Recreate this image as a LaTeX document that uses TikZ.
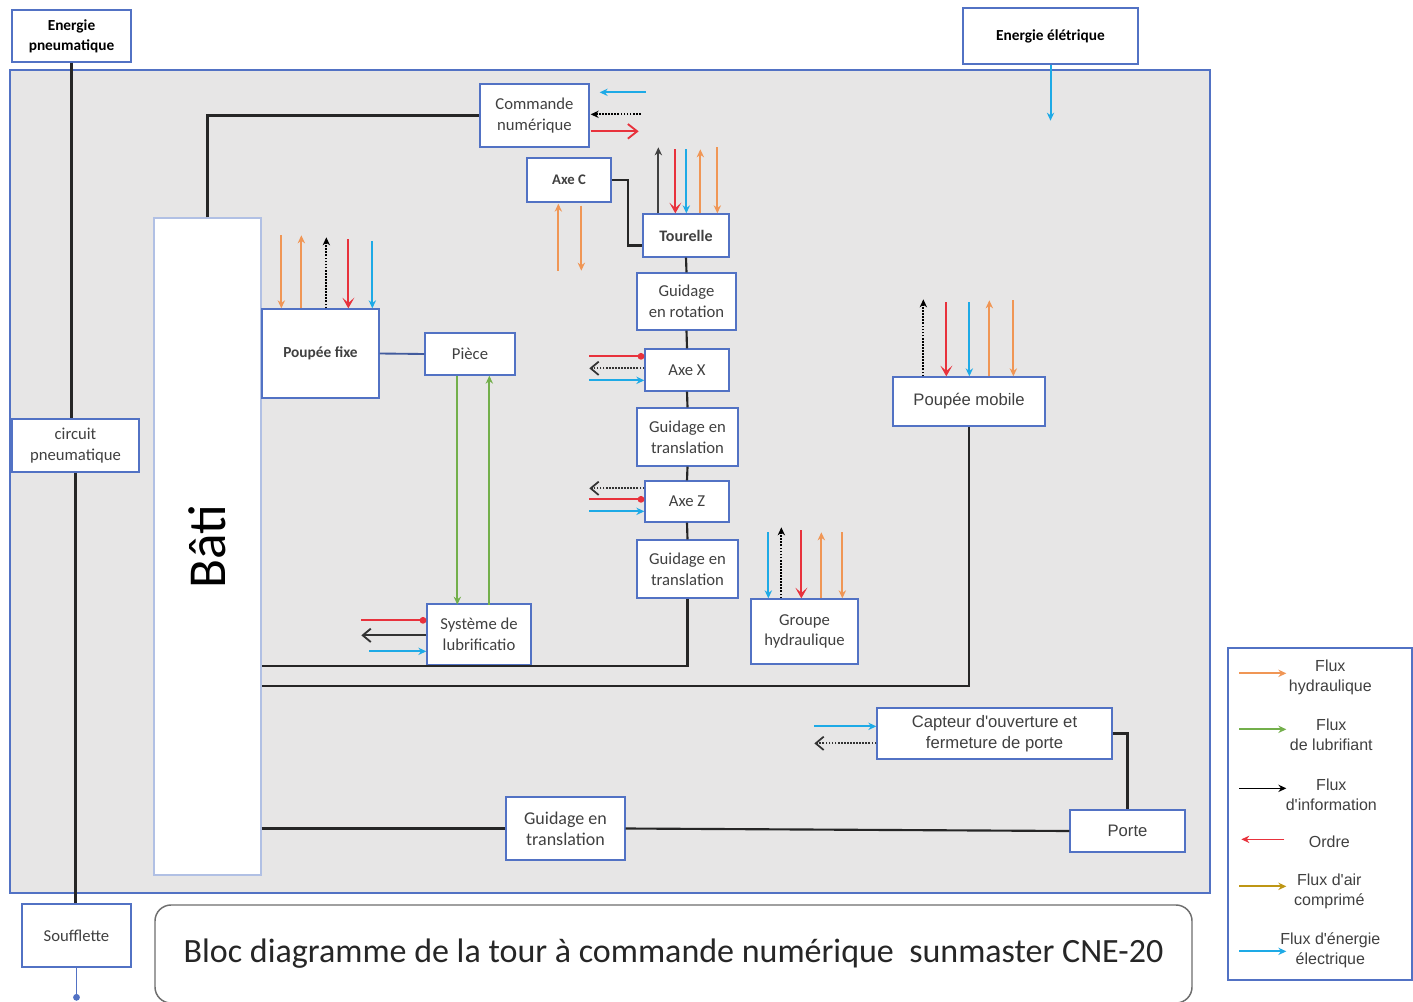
\documentclass[tikz,border=0pt]{standalone}
\usepackage{fontspec}
\setmainfont{Carlito}
\newfontfamily\arialf{Liberation Sans}
\usetikzlibrary{arrows.meta,calc}
\definecolor{bgc}{RGB}{231,230,230}
\definecolor{boxc}{RGB}{82,114,196}
\definecolor{orng}{RGB}{240,150,85}
\definecolor{redc}{RGB}{232,50,60}
\definecolor{cyanc}{RGB}{30,170,230}
\definecolor{grn}{RGB}{115,175,75}
\definecolor{goldc}{RGB}{190,150,20}
\definecolor{txt}{RGB}{64,64,64}
\definecolor{tbord}{RGB}{110,110,110}
\tikzset{
 box/.style={draw=boxc, fill=white, line width=1pt, align=center, inner sep=0pt, text=txt,
   font=\fontsize{12.5}{15.5}\selectfont},
 abox/.style={box, font=\arialf\fontsize{12.5}{15.5}\selectfont},
 bbox/.style={box, text=black, font=\bfseries\fontsize{11.5}{15}\selectfont},
 sz/.style 2 args={minimum width={#1*0.75pt}, minimum height={#2*0.75pt}},
 link/.style={draw=black!85, line width=1.6pt},
 tipS/.style={-{Stealth[length=6pt,width=5.5pt]}},
 fo/.style={draw=orng, line width=1.5pt, tipS},
 fc/.style={draw=cyanc, line width=1.5pt, tipS},
 fg/.style={draw=grn, line width=1.5pt, tipS},
 fgold/.style={draw=goldc, line width=1.5pt, tipS},
 fr/.style={draw=redc, line width=1.4pt, -{Stealth[length=8pt,width=9pt,inset=4pt]}},
 frd/.style={draw=redc, line width=1.4pt, -{Circle[length=5pt]}},
 fi/.style={draw=black, line width=1.3pt, densely dotted, tipS},
 fio/.style={draw=black!80, line width=1.3pt, densely dotted, -{Straight Barb[length=6pt,width=10pt]}},
 lgt/.style={align=center, inner sep=0pt, text=txt, font=\arialf\fontsize{12}{15}\selectfont},
}
\begin{document}
\begin{tikzpicture}[x=0.75pt,y=-0.75pt]
\useasboundingbox (0,0) rectangle (1413,1002);
% background panel
\fill[white] (0,0) rectangle (1413,1002);
\draw[fill=bgc, draw=boxc, line width=1pt] (10,70) rectangle (1210,893);

% nodes
\node[bbox, sz={119}{52}] (ep) at (71.5,36) {Energie\\pneumatique};
\node[bbox, sz={175}{56}] (ee) at (1050.5,36) {Energie élétrique};
\node[box, sz={109}{63}] (cn) at (534.5,115.5) {Commande\\numérique};
\node[box, sz={84}{44}, font=\bfseries\fontsize{11}{13}\selectfont] (axec) at (569,180) {Axe C};
\node[box, sz={86}{43}, font=\bfseries\fontsize{12}{14}\selectfont] (tour) at (686,235.5) {Tourelle};
\node[box, sz={99}{57}] (gr) at (686.5,301.5) {Guidage\\en rotation};
\node[box, sz={84}{42}] (ax) at (687,370) {Axe X};
\node[box, sz={101}{58}] (gt1) at (687.5,437) {Guidage en\\translation};
\node[box, sz={84}{41}] (az) at (687,501.5) {Axe Z};
\node[box, sz={101}{58}] (gt2) at (687.5,569) {Guidage en\\translation};
\node[box, sz={107}{65}] (gh) at (804.5,631.5) {Groupe\\hydraulique};
\node[box, sz={107}{657}, draw=boxc!45, text=black, font=\fontsize{40}{40}\selectfont] (bati) at (207.5,546.5) {\rotatebox{90}{Bâti}};
\node[box, sz={117}{89}, font=\bfseries\fontsize{11.5}{14}\selectfont] (pf) at (320.5,353.5) {Poupée fixe};
\node[box, sz={90}{42}] (pc) at (470,354) {Pièce};
\node[box, sz={104}{61}] (sl) at (479,634.5) {Système de\\lubrificatio};
\node[abox, sz={152}{49}] (pm) at (969,401.5) {Poupée mobile};
\node[box, sz={127}{53}] (cp) at (75.5,445.5) {circuit\\pneumatique};
\node[abox, sz={235}{51}] (cap) at (994.5,733.5) {Capteur d'ouverture et\\fermeture de porte};
\node[abox, sz={115}{42}] (porte) at (1127.5,831) {Porte};
\node[box, sz={119}{63}, font=\fontsize{13.5}{16}\selectfont] (gt3) at (565.5,828.5) {Guidage en\\translation};
\node[box, sz={109}{63}] (sf) at (76.5,935.5) {Soufflette};
\node[draw=tbord, fill=white, line width=1.1pt, rounded corners=12pt, sz={1037}{98}, inner sep=0pt,
      text=black!85, font=\fontsize{25.5}{28}\selectfont] (title) at (673.5,954) {Bloc diagramme de la tour à commande numérique\ \ sunmaster CNE-20};
\node[draw=boxc, fill=white, line width=1pt, sz={184}{332}, inner sep=0pt] (lg) at (1320,814) {};

% structural links
\draw[link] (ep.south) -- (ep.south |- cp.north);
\draw[link] (cp.south) -- (cp.south |- sf.north);
\draw[link] (bati.north) |- (cn.west);
\coordinate (tcin) at ($(tour.west)+(0,10)$);
\draw[link] (axec.east) -- ++(16,0) |- (tcin);
\draw[link] (tour.south) -- (gr.north);
\draw[link] (gr.south) -- (ax.north);
\draw[link] (ax.south) -- (gt1.north);
\draw[link] (gt1.south) -- (az.north);
\draw[link] (az.south) -- (gt2.north);
\draw[link] (gt2.south) |- (bati.east |- sl.south);
\coordinate (pmb) at (bati.east |- 0,686);
\draw[link] (pm.south) |- (pmb);
\draw[link] (bati.east |- gt3.west) -- (gt3.west);
\draw[link] (gt3.east) -- (porte.west);
\draw[link] (cap.east) -| (porte.north);
\draw[draw=boxc!80!black, line width=1.4pt] (pf.east) -- (pc.west);

% energy inputs
\draw[fc] (ee.south) -- ++(0,56);
\draw[draw=boxc, line width=1.4pt, -{Circle[length=5pt]}] (sf.south) -- ++(0,33);

% Commande numerique
\draw[fc] ($(cn.north east)+(56,9)$) -- ($(cn.north east)+(10,9)$);
\draw[fi] ($(cn.north east)+(51,31)$) -- ($(cn.north east)+(1,31)$);
\draw[draw=redc, line width=1.4pt, -{Straight Barb[length=7pt,width=11pt]}] ($(cn.north east)+(1,48)$) -- ($(cn.north east)+(49,48)$);

% Axe C
\draw[fo] ($(axec.south west)+(32,68)$) -- ($(axec.south west)+(32,1)$);
\draw[fo] ($(axec.south west)+(55,3)$) -- ($(axec.south west)+(55,68)$);

% Tourelle
\draw[draw=black!75, line width=1.4pt, tipS] ($(tour.north west)+(16,0)$) -- ($(tour.north west)+(16,-66)$);
\draw[fr] ($(tour.north west)+(33,-64)$) -- ($(tour.north west)+(33,0)$);
\draw[fc] ($(tour.north west)+(44,-64)$) -- ($(tour.north west)+(44,0)$);
\draw[fo] ($(tour.north west)+(58,0)$) -- ($(tour.north west)+(58,-64)$);
\draw[fo] ($(tour.north west)+(75,-66)$) -- ($(tour.north west)+(75,0)$);

% Poupee fixe
\draw[fo] ($(pf.north west)+(20,-73)$) -- ($(pf.north west)+(20,0)$);
\draw[fo] ($(pf.north west)+(40,0)$) -- ($(pf.north west)+(40,-73)$);
\draw[fi] ($(pf.north west)+(65,0)$) -- ($(pf.north west)+(65,-71)$);
\draw[fr] ($(pf.north west)+(87,-69)$) -- ($(pf.north west)+(87,0)$);
\draw[fc] ($(pf.north west)+(111,-67)$) -- ($(pf.north west)+(111,0)$);

% Piece <-> lubrification
\draw[fg] ($(pc.south west)+(33,0)$) -- ($(pc.south west)+(33,229)$);
\draw[fg] ($(pc.south west)+(65,229)$) -- ($(pc.south west)+(65,0)$);

% Axe X
\draw[frd] ($(ax.north west)+(-55,8)$) -- ($(ax.north west)+(0,8)$);
\draw[fio] ($(ax.north west)+(0,20)$) -- ($(ax.north west)+(-55,20)$);
\draw[fc] ($(ax.north west)+(-55,32)$) -- ($(ax.north west)+(0,32)$);

% Axe Z
\draw[fio] ($(az.north west)+(0,8)$) -- ($(az.north west)+(-55,8)$);
\draw[frd] ($(az.north west)+(-55,19)$) -- ($(az.north west)+(0,19)$);
\draw[fc] ($(az.north west)+(-55,31)$) -- ($(az.north west)+(0,31)$);

% Systeme de lubrification
\draw[frd] ($(sl.north west)+(-65,17)$) -- ($(sl.north west)+(0,17)$);
\draw[draw=black!80, line width=1.4pt, -{Straight Barb[length=6pt,width=10pt]}] ($(sl.north west)+(0,32)$) -- ($(sl.north west)+(-65,32)$);
\draw[fc] ($(sl.north west)+(-57,48)$) -- ($(sl.north west)+(0,48)$);

% Groupe hydraulique
\draw[fc] ($(gh.north west)+(18,-66)$) -- ($(gh.north west)+(18,0)$);
\draw[fi] ($(gh.north west)+(31,0)$) -- ($(gh.north west)+(31,-71)$);
\draw[fr] ($(gh.north west)+(51,-68)$) -- ($(gh.north west)+(51,0)$);
\draw[fo] ($(gh.north west)+(71,0)$) -- ($(gh.north west)+(71,-66)$);
\draw[fo] ($(gh.north west)+(92,-66)$) -- ($(gh.north west)+(92,0)$);

% Poupee mobile
\draw[fi] ($(pm.north west)+(31,0)$) -- ($(pm.north west)+(31,-77)$);
\draw[fr] ($(pm.north west)+(54,-74)$) -- ($(pm.north west)+(54,0)$);
\draw[fc] ($(pm.north west)+(77,-74)$) -- ($(pm.north west)+(77,0)$);
\draw[fo] ($(pm.north west)+(97,0)$) -- ($(pm.north west)+(97,-76)$);
\draw[fo] ($(pm.north west)+(121,-76)$) -- ($(pm.north west)+(121,0)$);

% Capteur
\draw[fc] ($(cap.north west)+(-62,19)$) -- ($(cap.north west)+(0,19)$);
\draw[fio] ($(cap.north west)+(0,36)$) -- ($(cap.north west)+(-62,36)$);

% legend
\draw[fo] ($(lg.north west)+(12,26)$) -- ($(lg.north west)+(59,26)$);
\node[lgt] (l1) at ($(lg.north west)+(103,30)$) {Flux\\hydraulique};
\draw[fg] ($(lg.north west)+(12,82)$) -- ($(lg.north west)+(59,82)$);
\node[lgt] (l2) at ($(lg.north west)+(104,87)$) {Flux\\de lubrifiant};
\draw[draw=black, line width=1.2pt, tipS] ($(lg.north west)+(12,141)$) -- ($(lg.north west)+(59,141)$);
\node[lgt] (l3) at ($(lg.north west)+(104,147)$) {Flux\\d'information};
\draw[draw=redc, line width=1.2pt, tipS] ($(lg.north west)+(57,192)$) -- ($(lg.north west)+(14,192)$);
\node[lgt] (l4) at ($(lg.north west)+(102,194)$) {Ordre};
\draw[fgold] ($(lg.north west)+(12,239)$) -- ($(lg.north west)+(59,239)$);
\node[lgt] (l5) at ($(lg.north west)+(102,244)$) {Flux d'air\\comprimé};
\draw[fc] ($(lg.north west)+(12,304)$) -- ($(lg.north west)+(59,304)$);
\node[lgt] (l6) at ($(lg.north west)+(103,303)$) {Flux d'énergie\\électrique};
\end{tikzpicture}
\end{document}
